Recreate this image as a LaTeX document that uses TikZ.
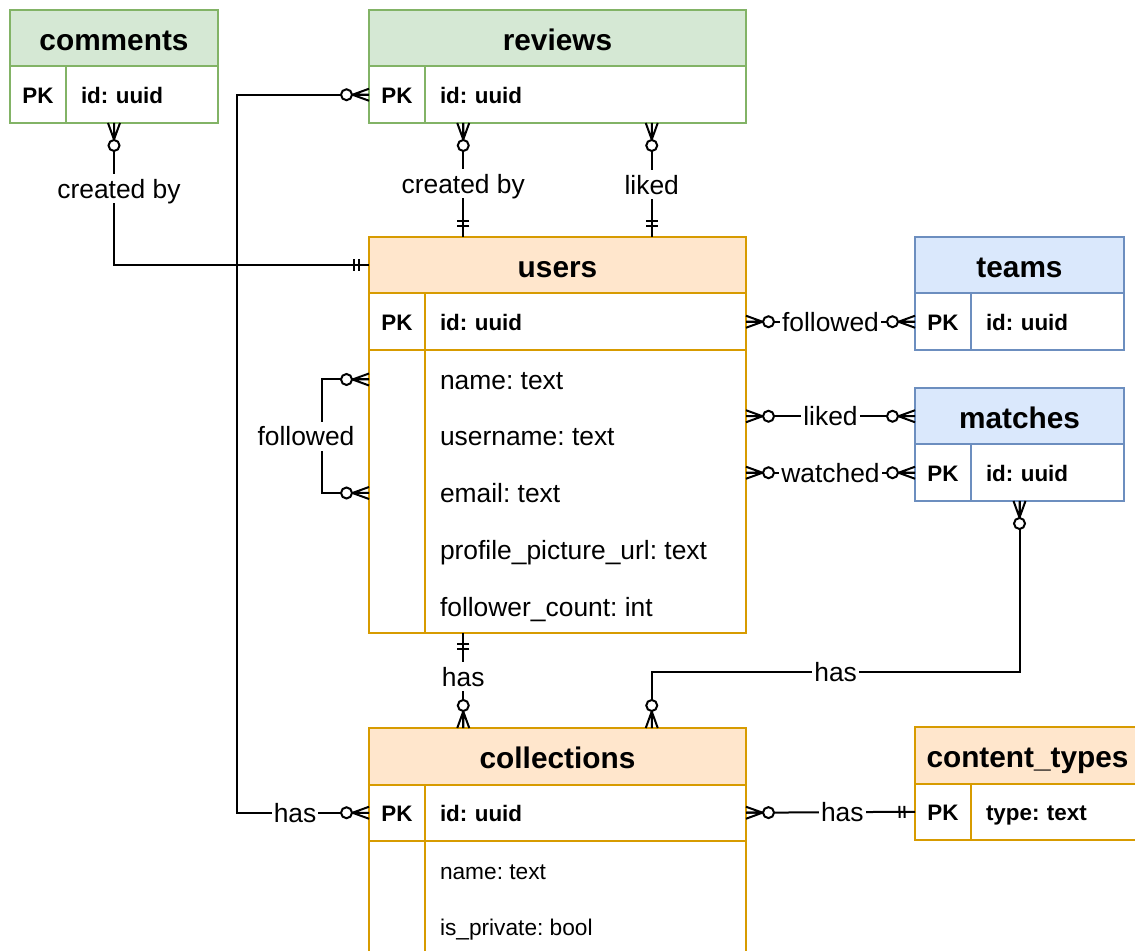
\documentclass[tikz,border=0pt]{standalone}
\usepackage{fontspec}
\setmainfont{Liberation Sans}
\usetikzlibrary{positioning,calc,decorations.markings}

\definecolor{grnFill}{HTML}{D5E8D4}
\definecolor{grnLine}{HTML}{82B366}
\definecolor{orgFill}{HTML}{FFE6CC}
\definecolor{orgLine}{HTML}{D79B00}
\definecolor{bluFill}{HTML}{DAE8FC}
\definecolor{bluLine}{HTML}{6C8EBF}

% crow's foot marks, entity at the origin, line going along +x
\newcommand\crowMany{\draw (0,-6) -- (16.5,0) -- (0,6) (0,0) -- (16.5,0);
  \draw[fill=white] (22.5,0) circle[radius=5.5];}
\newcommand\crowOne{\draw (10.5,-6) -- (10.5,6) (15.5,-6) -- (15.5,6);}

\tikzset{
  cell/.style={draw, inner sep=0pt, outer sep=0pt, minimum height=28.25pt},
  head/.style={cell, text height=12.7pt, text depth=0pt, font=\fontsize{14.9}{18}\selectfont\bfseries},
  grnHead/.style={head, fill=grnFill, draw=grnLine},
  orgHead/.style={head, fill=orgFill, draw=orgLine},
  bluHead/.style={head, fill=bluFill, draw=bluLine},
  keycell/.style={cell, minimum width=28pt, text height=8.5pt, text depth=0pt, font=\fontsize{11.2}{13}\selectfont\bfseries},
  fieldcell/.style={cell, text width=#1, align=left, inner xsep=7.5pt, text height=8.5pt, text depth=0pt, font=\fontsize{11.2}{13}\selectfont\bfseries},
  attr/.style={inner sep=0pt, anchor=west, text height=12.5pt, text depth=2.8pt, font=\fontsize{13.2}{15}\selectfont},
  attrSmall/.style={attr, text height=11.1pt, text depth=2.4pt, font=\fontsize{11.35}{13}\selectfont},
  lbl/.style={fill=white, inner ysep=0pt, inner xsep=1pt, text height=12pt, text depth=2.3pt, font=\fontsize{13.2}{15}\selectfont},
  zmStart/.style={postaction={decorate,decoration={markings,mark=at position 0 with {\crowMany}}}},
  zmEnd/.style={postaction={decorate,decoration={markings,mark=at position 1 with {\begin{scope}[xscale=-1]\crowMany\end{scope}}}}},
  oneStart/.style={postaction={decorate,decoration={markings,mark=at position 0 with {\crowOne}}}},
  oneEnd/.style={postaction={decorate,decoration={markings,mark=at position 1 with {\begin{scope}[xscale=-1]\crowOne\end{scope}}}}},
}

\begin{document}
\frenchspacing
\begin{tikzpicture}[x=0.5pt, y=-0.5pt, line width=1pt]
\useasboundingbox (0,0) rectangle (1135,951);
\clip (0,0) rectangle (1135,951);

% comments
\node[grnHead, minimum width=104pt, anchor=north west] (commentsHead) at (10,10) {comments};
\node[keycell, draw=grnLine, anchor=north west] (commentsK) at (commentsHead.south west) {PK};
\node[fieldcell=61pt, draw=grnLine, right=0pt of commentsK] (commentsF) {id: uuid};

% reviews
\node[grnHead, minimum width=188.5pt, anchor=north west] (reviewsHead) at (369,10) {reviews};
\node[keycell, draw=grnLine, anchor=north west] (reviewsK) at (reviewsHead.south west) {PK};
\node[fieldcell=145.5pt, draw=grnLine, right=0pt of reviewsK] (reviewsF) {id: uuid};

% users
\node[orgHead, minimum width=188.5pt, anchor=north west] (usersHead) at (369,237) {users};
\node[keycell, draw=orgLine, anchor=north west] (usersK) at (usersHead.south west) {PK};
\node[fieldcell=145.5pt, draw=orgLine, right=0pt of usersK] (usersF) {id: uuid};
\node[cell, draw=orgLine, minimum width=28pt, minimum height=141.5pt, anchor=north west] (usersAK) at (usersK.south west) {};
\node[cell, draw=orgLine, minimum width=160.5pt, minimum height=141.5pt, right=0pt of usersAK] (usersAF) {};
\foreach \t [count=\i] in {name: text, username: text, email: text, profile\_picture\_url: text, follower\_count: int}
  \node[attr] (usersA\i) at ($(usersAF.north west)+(14,{29.5+56.75*(\i-1)})$) {\t};

% teams
\node[bluHead, minimum width=104.5pt, anchor=north west] (teamsHead) at (915,237) {teams};
\node[keycell, draw=bluLine, anchor=north west] (teamsK) at (teamsHead.south west) {PK};
\node[fieldcell=61.5pt, draw=bluLine, right=0pt of teamsK] (teamsF) {id: uuid};

% matches
\node[bluHead, minimum width=104.5pt, anchor=north west] (matchesHead) at (915,388) {matches};
\node[keycell, draw=bluLine, anchor=north west] (matchesK) at (matchesHead.south west) {PK};
\node[fieldcell=61.5pt, draw=bluLine, right=0pt of matchesK] (matchesF) {id: uuid};

% collections
\node[orgHead, minimum width=188.5pt, anchor=north west] (collHead) at (369,728) {collections};
\node[keycell, draw=orgLine, anchor=north west] (collK) at (collHead.south west) {PK};
\node[fieldcell=145.5pt, draw=orgLine, right=0pt of collK] (collF) {id: uuid};
\node[cell, draw=orgLine, minimum width=28pt, minimum height=79pt, anchor=north west] (collAK) at (collK.south west) {};
\node[cell, draw=orgLine, minimum width=160.5pt, minimum height=79pt, right=0pt of collAK] (collAF) {};
\foreach \t [count=\i] in {name: text, is\_private: bool}
  \node[attrSmall] (collA\i) at ($(collAF.north west)+(14,{30+56*(\i-1)})$) {\t};

% content_types
\node[orgHead, minimum width=112.5pt, anchor=north west] (ctHead) at (915,727) {content\_types};
\node[keycell, draw=orgLine, anchor=north west] (ctK) at (ctHead.south west) {PK};
\node[fieldcell=69.5pt, draw=orgLine, right=0pt of ctK] (ctF) {type: text};

\coordinate (leftBus) at (237,0);

% relations
\draw[zmStart, oneEnd] ($(commentsK.south west)!.5!(commentsF.south east)$) |- node[lbl, pos=.23, xshift=2.5pt] {created by} (usersHead.west);
\draw[zmStart, zmEnd] (reviewsK.west) -| (leftBus |- collK.west) -- node[lbl, pos=.44] {has} (collK.west);
\draw[zmStart, oneEnd] ($(reviewsK.south west)!.25!(reviewsF.south east)$) -- node[lbl, pos=.53] {created by} ($(usersHead.north west)!.25!(usersHead.north east)$);
\draw[zmStart, oneEnd] ($(reviewsK.south west)!.75!(reviewsF.south east)$) -- node[lbl, pos=.54] {liked} ($(usersHead.north west)!.75!(usersHead.north east)$);
\draw[zmStart, zmEnd] (usersAK.west |- usersA1) -- ++(-47,0) |- node[lbl, pos=.25, xshift=-8pt] {followed} (usersAK.west |- usersA3);
\draw[zmStart, zmEnd] (usersF.east) -- node[lbl] {followed} (teamsK.west);
\draw[zmStart, zmEnd] (usersAF.east |- matchesHead.west) -- node[lbl] {liked} (matchesHead.west);
\draw[zmStart, zmEnd] (usersAF.east |- matchesK.west) -- node[lbl] {watched} (matchesK.west);
\draw[oneStart, zmEnd] ($(usersAK.south west)!.25!(usersAF.south east)$) -- node[lbl, pos=.46] {has} ($(collHead.north west)!.25!(collHead.north east)$);
\draw[zmStart, zmEnd] ($(matchesK.south west)!.5!(matchesF.south east)$) -- ++(0,171) -| node[lbl, pos=.25] {has} ($(collHead.north west)!.75!(collHead.north east)$);
\draw[zmStart, oneEnd] (collF.east) -- node[lbl, pos=.57] {has} (ctK.west);

\end{tikzpicture}
\end{document}
